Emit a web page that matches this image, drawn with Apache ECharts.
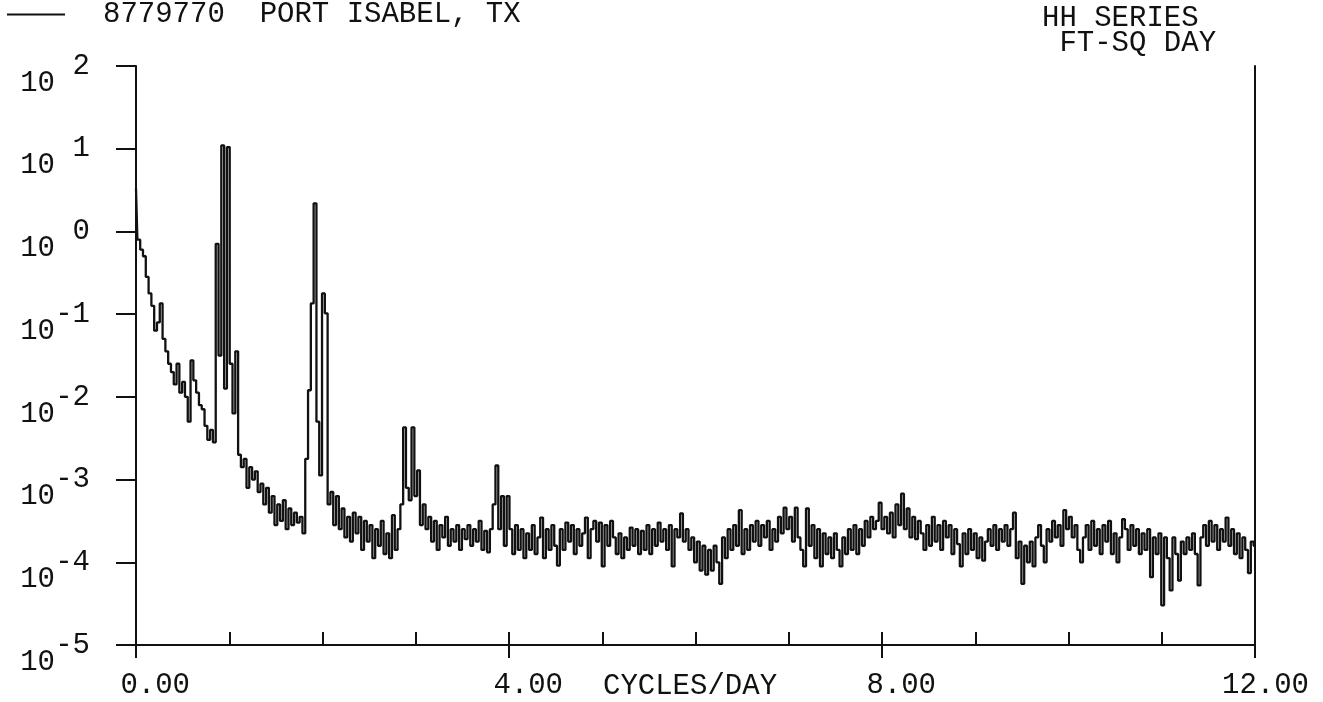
<!DOCTYPE html>
<html>
<head>
<meta charset="utf-8">
<script src="https://cdn.jsdelivr.net/npm/echarts@6/dist/echarts.min.js"></script>
<style>
  html, body { margin: 0; padding: 0; background: #ffffff; }
  #chart { width: 1323px; height: 702px; }
</style>
</head>
<body>
<div id="chart"></div>
<script>
// Station and plot titles
const stationTitle = '8779770  PORT ISABEL, TX';
const seriesTitle = 'HH SERIES\n FT-SQ DAY';
const xAxisTitle = 'CYCLES/DAY';

// Frequency grid of the spectrum (cycles/day)
const freqStart = 0;
const freqStep = 0.03;

// Spectral density, log10 of FT-SQ DAY, one value per frequency bin (10 bins = 0.3 cycles/day per row)
const log10Spectrum = [
  0.52, -0.1, -0.22, -0.3, -0.55, -0.75, -0.9, -1.2, -1.1, -0.87,
  -1.3, -1.45, -1.6, -1.7, -1.85, -1.6, -1.95, -1.82, -2.0, -2.3,
  -1.56, -1.8, -1.95, -2.1, -2.15, -2.35, -2.52, -2.4, -2.55, -0.15,
  -1.5, 1.04, -1.9, 1.02, -1.6, -2.2, -1.45, -2.7, -2.85, -2.75,
  -3.1, -2.85, -3.0, -2.9, -3.15, -3.05, -3.3, -3.1, -3.4, -3.2,
  -3.55, -3.3, -3.5, -3.25, -3.6, -3.35, -3.55, -3.4, -3.52, -3.45,
  -3.65, -2.75, -1.92, -0.87, 0.34, -2.3, -2.95, -0.75, -0.99, -3.3,
  -3.15, -3.55, -3.2, -3.6, -3.35, -3.7, -3.45, -3.75, -3.4, -3.65,
  -3.45, -3.85, -3.5, -3.75, -3.55, -3.95, -3.6, -3.8, -3.5, -3.9,
  -3.65, -3.95, -3.43, -3.85, -3.6, -3.3, -2.37, -3.1, -3.25, -2.37,
  -3.2, -2.89, -3.55, -3.3, -3.6, -3.45, -3.75, -3.5, -3.85, -3.55,
  -3.7, -3.45, -3.8, -3.6, -3.75, -3.55, -3.85, -3.6, -3.72, -3.55,
  -3.8, -3.6, -3.75, -3.5, -3.85, -3.62, -3.88, -3.6, -3.3, -2.83,
  -3.6, -3.2, -3.8, -3.2, -3.6, -3.9, -3.55, -3.85, -3.6, -3.95,
  -3.65, -3.85, -3.55, -3.9, -3.7, -3.46, -3.95, -3.6, -3.85, -3.55,
  -3.8, -4.04, -3.6, -3.85, -3.52, -3.75, -3.55, -3.9, -3.6, -3.8,
  -3.65, -3.46, -3.95, -3.6, -3.5, -3.75, -3.52, -4.05, -3.55, -3.8,
  -3.5, -3.7, -3.9, -3.65, -3.95, -3.7, -3.85, -3.58, -3.8, -3.6,
  -3.9, -3.62, -3.85, -3.55, -3.9, -3.6, -3.8, -3.52, -3.75, -3.6,
  -3.85, -3.55, -4.05, -3.6, -3.7, -3.41, -3.75, -3.6, -3.85, -3.7,
  -4.0, -3.75, -4.1, -3.8, -4.15, -3.85, -4.1, -3.8, -4.0, -4.26,
  -3.7, -3.95, -3.6, -3.85, -3.55, -3.8, -3.37, -3.9, -3.6, -3.85,
  -3.55, -3.75, -3.5, -3.8, -3.55, -3.7, -3.5, -3.85, -3.6, -3.75,
  -3.45, -3.65, -3.34, -3.6, -3.45, -3.75, -3.34, -3.7, -3.85, -4.05,
  -3.35, -3.8, -3.55, -3.95, -3.6, -4.05, -3.65, -3.9, -3.7, -3.95,
  -3.65, -3.85, -4.05, -3.7, -3.9, -3.6, -3.85, -3.55, -3.9, -3.6,
  -3.8, -3.5, -3.7, -3.45, -3.6, -3.5, -3.28, -3.6, -3.45, -3.65,
  -3.4, -3.7, -3.3, -3.55, -3.17, -3.6, -3.35, -3.7, -3.45, -3.72,
  -3.5, -3.65, -3.85, -3.55, -3.8, -3.45, -3.75, -3.55, -3.85, -3.5,
  -3.7, -3.55, -3.9, -3.6, -3.78, -4.05, -3.65, -3.9, -3.6, -3.85,
  -3.65, -3.95, -3.7, -3.98, -3.75, -3.6, -3.8, -3.55, -3.85, -3.6,
  -3.75, -3.55, -3.8, -3.6, -3.4, -3.95, -3.75, -4.26, -3.8, -4.0,
  -3.75, -4.05, -3.7, -3.55, -3.8, -4.0, -3.6, -3.75, -3.5, -3.7,
  -3.55, -3.8, -3.37, -3.6, -3.45, -3.7, -3.55, -3.85, -4.0, -3.7,
  -3.55, -3.85, -3.5, -3.8, -3.6, -3.9, -3.55, -3.75, -3.5, -3.9,
  -3.65, -4.0, -3.7, -3.48, -3.6, -3.85, -3.55, -3.8, -3.6, -3.9,
  -3.65, -3.85, -3.6, -4.18, -3.7, -3.9, -3.65, -4.52, -3.7, -3.95,
  -4.34, -3.7, -3.9, -4.22, -3.75, -3.9, -3.7, -3.85, -3.65, -3.9,
  -4.28, -3.7, -3.55, -3.8, -3.5, -3.75, -3.55, -3.85, -3.6, -3.75,
  -3.46, -3.8, -3.6, -3.9, -3.65, -3.95, -3.7, -3.85, -4.13, -3.75,
  -3.8
];

// Axis tick labels
const xTickValues = [0, 4, 8, 12];
const xTickLabels = ['0.00', '4.00', '8.00', '12.00'];
const yTickExponents = [2, 1, 0, -1, -2, -3, -4, -5];

const FONT = '"Liberation Mono", "DejaVu Sans Mono", monospace';
const FS = 29;
const INK = '#111111';

const seriesData = log10Spectrum.map((e, i) => [
  +(freqStart + i * freqStep).toFixed(2),
  Math.pow(10, e)
]);

function exponentOf(v) {
  const e = Math.round(Math.log10(v));
  return yTickExponents.indexOf(e) >= 0 ? String(e) : '';
}

const logAxisBase = {
  type: 'log',
  logBase: 10,
  min: 1e-5,
  max: 1e2,
  splitNumber: 7,
  splitLine: { show: false },
  minorTick: { show: false }
};

const chart = echarts.init(document.getElementById('chart'), null, { renderer: 'canvas' });

chart.setOption({
  animation: false,
  backgroundColor: '#ffffff',
  textStyle: { fontFamily: FONT, color: INK },
  grid: { left: 136, right: 68, top: 66, bottom: 57, containLabel: false },
  title: {
    text: seriesTitle,
    left: 1042,
    top: 6,
    padding: 0,
    textStyle: { fontFamily: FONT, fontSize: FS, fontWeight: 'normal', color: INK, lineHeight: 25 }
  },
  legend: {
    data: [stationTitle],
    left: 7,
    top: 0,
    padding: 0,
    icon: 'rect',
    itemWidth: 58,
    itemHeight: 2,
    selectedMode: false,
    textStyle: { fontFamily: FONT, fontSize: FS, color: INK, padding: [0, 0, 0, 33], lineHeight: 28 }
  },
  graphic: [{
    type: 'text',
    left: 603,
    top: 672,
    style: { text: xAxisTitle, font: FS + 'px ' + FONT, fill: INK }
  }],
  xAxis: [
    {
      type: 'value', min: 0, max: 12, interval: 1, position: 'bottom',
      axisLine: { show: true, onZero: false, lineStyle: { color: INK, width: 2 } },
      axisTick: { show: true, inside: true, length: 13, lineStyle: { color: INK, width: 2 } },
      axisLabel: { show: false },
      splitLine: { show: false }
    },
    {
      type: 'value', min: 0, max: 12, interval: 4, position: 'bottom',
      axisLine: { show: false, onZero: false },
      axisTick: { show: true, inside: false, length: 13, lineStyle: { color: INK, width: 2 } },
      axisLabel: {
        show: true,
        margin: 26,
        align: 'center',
        formatter: v => {
          const k = xTickValues.indexOf(v);
          return k >= 0 ? '{t|' + xTickLabels[k] + '}' : '';
        },
        rich: { t: { width: 108, align: 'right', fontFamily: FONT, fontSize: FS, color: INK } }
      },
      splitLine: { show: false }
    }
  ],
  yAxis: [
    Object.assign({}, logAxisBase, {
      position: 'left',
      axisLine: { show: true, onZero: false, lineStyle: { color: INK, width: 2 } },
      axisTick: { show: true, inside: false, length: 20, lineStyle: { color: INK, width: 2 } },
      axisLabel: {
        show: true, showMinLabel: true, showMaxLabel: true,
        margin: 81, align: 'right', verticalAlign: 'top', lineHeight: 34,
        fontFamily: FONT, fontSize: FS, color: INK,
        formatter: v => exponentOf(v) === '' ? '' : '10'
      }
    }),
    Object.assign({}, logAxisBase, {
      position: 'left',
      axisLine: { show: false },
      axisTick: { show: false },
      axisLabel: {
        show: true, showMinLabel: true, showMaxLabel: true,
        margin: 46, align: 'right', verticalAlign: 'middle', lineHeight: 14,
        fontFamily: FONT, fontSize: FS, color: INK,
        formatter: v => exponentOf(v)
      }
    }),
    Object.assign({}, logAxisBase, {
      position: 'right',
      axisLine: { show: true, onZero: false, lineStyle: { color: INK, width: 2 } },
      axisTick: { show: false },
      axisLabel: { show: false }
    })
  ],
  series: [{
    name: stationTitle,
    type: 'line',
    xAxisIndex: 0,
    yAxisIndex: 0,
    step: 'middle',
    showSymbol: false,
    symbol: 'none',
    clip: true,
    color: INK,
    lineStyle: { color: INK, width: 2.3 },
    data: seriesData
  }]
});
</script>
</body>
</html>
